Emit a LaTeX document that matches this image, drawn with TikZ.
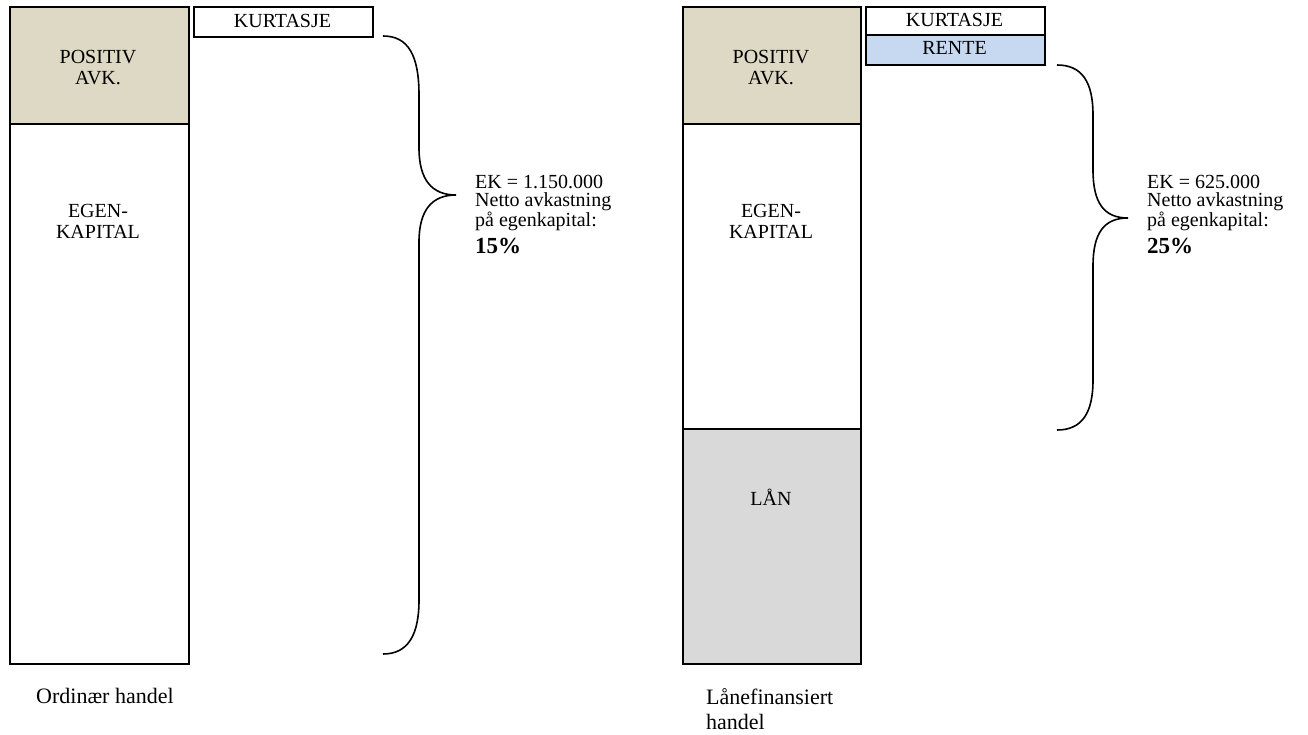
\documentclass[tikz,border=0pt]{standalone}
\usepackage{fontspec}
\setmainfont{Liberation Serif}
\definecolor{avkfill}{HTML}{DDD9C4}
\definecolor{rentefill}{HTML}{C6D9F1}
\definecolor{laanfill}{HTML}{D9D9D9}
\begin{document}
\begin{tikzpicture}[x=1pt,y=-1pt,
  box/.style={draw=black,line width=1.6pt,rectangle,inner sep=0pt,anchor=north west},
  lbl/.style={inner sep=0pt,align=center,font=\fontsize{20}{20.5}\selectfont},
  side/.style={inner sep=0pt,align=left,anchor=north west,font=\fontsize{20}{18.5}\selectfont},
  foot/.style={inner sep=0pt,align=left,anchor=north west,font=\fontsize{22}{25}\selectfont},
  brace/.style={draw=black,line width=1.6pt}]
\useasboundingbox (0,0) rectangle (1308,735);
% left column
\node[box,fill=avkfill,minimum width=179pt,minimum height=117pt] (avk1) at (9,6) {};
\node[box,fill=white,minimum width=179pt,minimum height=540pt] (ek1) at (9,123) {};
\node[box,fill=white,minimum width=179pt,minimum height=30pt] (kurt1) at (193,6) {};
\node[lbl] (avk1t) at (98,67.5) {POSITIV\\AVK.};
\node[lbl] (ek1t) at (98,221.5) {EGEN-\\KAPITAL};
\node[lbl] (kurt1t) at (282.5,21) {KURTASJE};
% left brace
\coordinate (b1top) at (383,36);
\coordinate (b1mid) at (456,195);
\coordinate (b1bot) at (383,654);
\draw[brace] (b1top) .. controls (408,36) and (419,55) .. (419,95) -- (419,148)
  .. controls (419,180) and (432,195) .. (b1mid)
  .. controls (432,195) and (419,210) .. (419,242) -- (419,600)
  .. controls (419,635) and (408,654) .. (b1bot);
\node[side] (txt1) at (475,175) {EK = 1.150.000\\Netto avkastning\\på egenkapital:\\[6pt]{\fontsize{23}{20}\selectfont\textbf{15\%}}};
\node[foot] (foot1) at (36,688) {Ordinær handel};
% right column
\node[box,fill=avkfill,minimum width=178pt,minimum height=117pt] (avk2) at (682,6) {};
\node[box,fill=white,minimum width=178pt,minimum height=305pt] (ek2) at (682,123) {};
\node[box,fill=laanfill,minimum width=178pt,minimum height=235pt] (laan) at (682,428) {};
\node[box,fill=white,minimum width=179pt,minimum height=28pt] (kurt2) at (865,6) {};
\node[box,fill=rentefill,minimum width=179pt,minimum height=30pt] (rente) at (865,34) {};
\node[lbl] (avk2t) at (771,67.5) {POSITIV\\AVK.};
\node[lbl] (ek2t) at (771,221.5) {EGEN-\\KAPITAL};
\node[lbl] (laant) at (771,497) {LÅN};
\node[lbl] (kurt2t) at (954.5,20) {KURTASJE};
\node[lbl] (rentet) at (954.5,48) {RENTE};
% right brace
\coordinate (b2top) at (1057,65);
\coordinate (b2mid) at (1128,218);
\coordinate (b2bot) at (1057,430);
\draw[brace] (b2top) .. controls (1082,65) and (1093,82) .. (1093,115) -- (1093,170)
  .. controls (1093,203) and (1104,218) .. (b2mid)
  .. controls (1104,218) and (1093,233) .. (1093,266) -- (1093,380)
  .. controls (1093,413) and (1082,430) .. (b2bot);
\node[side] (txt2) at (1147,175) {EK = 625.000\\Netto avkastning\\på egenkapital:\\[6pt]{\fontsize{23}{20}\selectfont\textbf{25\%}}};
\node[foot] (foot2) at (706,688) {Lånefinansiert\\handel};
\end{tikzpicture}
\end{document}
